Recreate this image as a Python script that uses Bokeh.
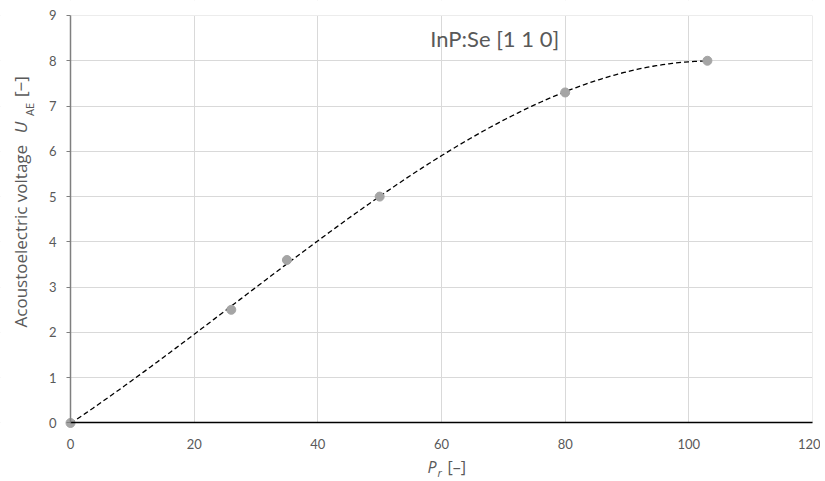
import numpy as np
from bokeh.plotting import figure
from bokeh.models import Range1d, Label, FixedTicker, BoxAnnotation
from bokeh.embed import file_html
from bokeh.resources import INLINE

# data
pr = [0, 26, 35, 50, 80, 103]
uae = [0.0, 2.5, 3.6, 5.0, 7.3, 8.0]
x_ticks = [0, 20, 40, 60, 80, 100, 120]
y_ticks = [0, 1, 2, 3, 4, 5, 6, 7, 8, 9]
title_text = "InP:Se [1 1 0]"

FONT = "Lato"
LFONT = "Open Sans"
GREY = "#595959"
X0, X1, Y0, Y1 = 0, 120, 0, 9

p = figure(width=820, height=481, output_backend="svg", toolbar_location=None,
           x_range=Range1d(-11.32, 121.29), y_range=Range1d(-1.292, 9.331),
           min_border=0)
p.outline_line_color = None
p.background_fill_color = "white"
p.border_fill_color = "white"

p.xaxis.ticker = FixedTicker(ticks=x_ticks)
p.yaxis.ticker = FixedTicker(ticks=y_ticks)
p.xgrid.ticker = FixedTicker(ticks=x_ticks)
p.ygrid.ticker = FixedTicker(ticks=y_ticks)
p.xgrid.grid_line_color = "#D9D9D9"
p.ygrid.grid_line_color = "#D9D9D9"

# white masks so that grid lines stay inside the plot area
for kw in (dict(right=X0), dict(left=X1), dict(top=Y0), dict(bottom=Y1)):
    p.add_layout(BoxAnnotation(fill_color="white", fill_alpha=1, line_color=None,
                               level="underlay", **kw))

# polynomial (order 3) trendline fitted to the data, as in the original
coef = np.polyfit(pr, uae, 3)
xt = np.linspace(min(pr), max(pr), 200)
yt = np.polyval(coef, xt)
p.line(xt, yt, line_color="black", line_width=1.3, line_dash="5 3")
p.scatter(pr, uae, size=9, fill_color="#A5A5A5", line_color="#A5A5A5")

for ax in (p.xaxis, p.yaxis):
    ax.major_label_text_font = FONT
    ax.major_label_text_font_size = "13px"
    ax.major_label_text_color = GREY
    ax.minor_tick_line_color = None
p.xaxis.fixed_location = Y0
p.xaxis.bounds = (X0, X1)
p.xaxis.axis_line_color = "black"
p.xaxis.axis_line_width = 1.5
p.xaxis.major_tick_line_color = None
p.xaxis.major_label_standoff = 10
p.yaxis.fixed_location = X0
p.yaxis.bounds = (Y0, Y1)
p.yaxis.axis_line_color = "#7F7F7F"
p.yaxis.axis_line_width = 1.5
p.yaxis.major_tick_line_color = "#7F7F7F"
p.yaxis.major_tick_out = 4
p.yaxis.major_tick_in = 0
p.yaxis.major_label_standoff = 10

# title
p.add_layout(Label(x=68.6, y=8.49, text=title_text, text_font=FONT, text_font_size="22px",
                   text_color=GREY, text_align="center", text_baseline="middle"))

# x axis label: P_r [–]
p.add_layout(Label(x=57.74, y=-0.98, text="P", text_font=LFONT, text_font_style="italic",
                   text_font_size="16px", text_color=GREY, text_align="left", text_baseline="middle"))
p.add_layout(Label(x=59.35, y=-1.10, text="r", text_font=LFONT, text_font_style="italic",
                   text_font_size="11px", text_color=GREY, text_align="left", text_baseline="middle"))
p.add_layout(Label(x=60.97, y=-0.98, text="[–]", text_font=LFONT,
                   text_font_size="16px", text_color=GREY, text_align="left", text_baseline="middle"))

# y axis label: Acoustoelectric voltage  U_AE [−]
ang = np.pi / 2
p.add_layout(Label(x=-8.09, y=2.11, text="Acoustoelectric voltage", angle=ang, text_font=LFONT,
                   text_font_size="17px", text_color=GREY, text_align="left", text_baseline="middle"))
p.add_layout(Label(x=-8.09, y=6.40, text="U", angle=ang, text_font=LFONT, text_font_style="italic",
                   text_font_size="17px", text_color=GREY, text_align="left", text_baseline="middle"))
p.add_layout(Label(x=-6.63, y=6.78, text="AE", angle=ang, text_font=LFONT,
                   text_font_size="11px", text_color=GREY, text_align="left", text_baseline="middle"))
p.add_layout(Label(x=-8.09, y=7.20, text="[−]", angle=ang, text_font=LFONT,
                   text_font_size="17px", text_color=GREY, text_align="left", text_baseline="middle"))

open("out.html", "w").write(file_html(p, INLINE))
